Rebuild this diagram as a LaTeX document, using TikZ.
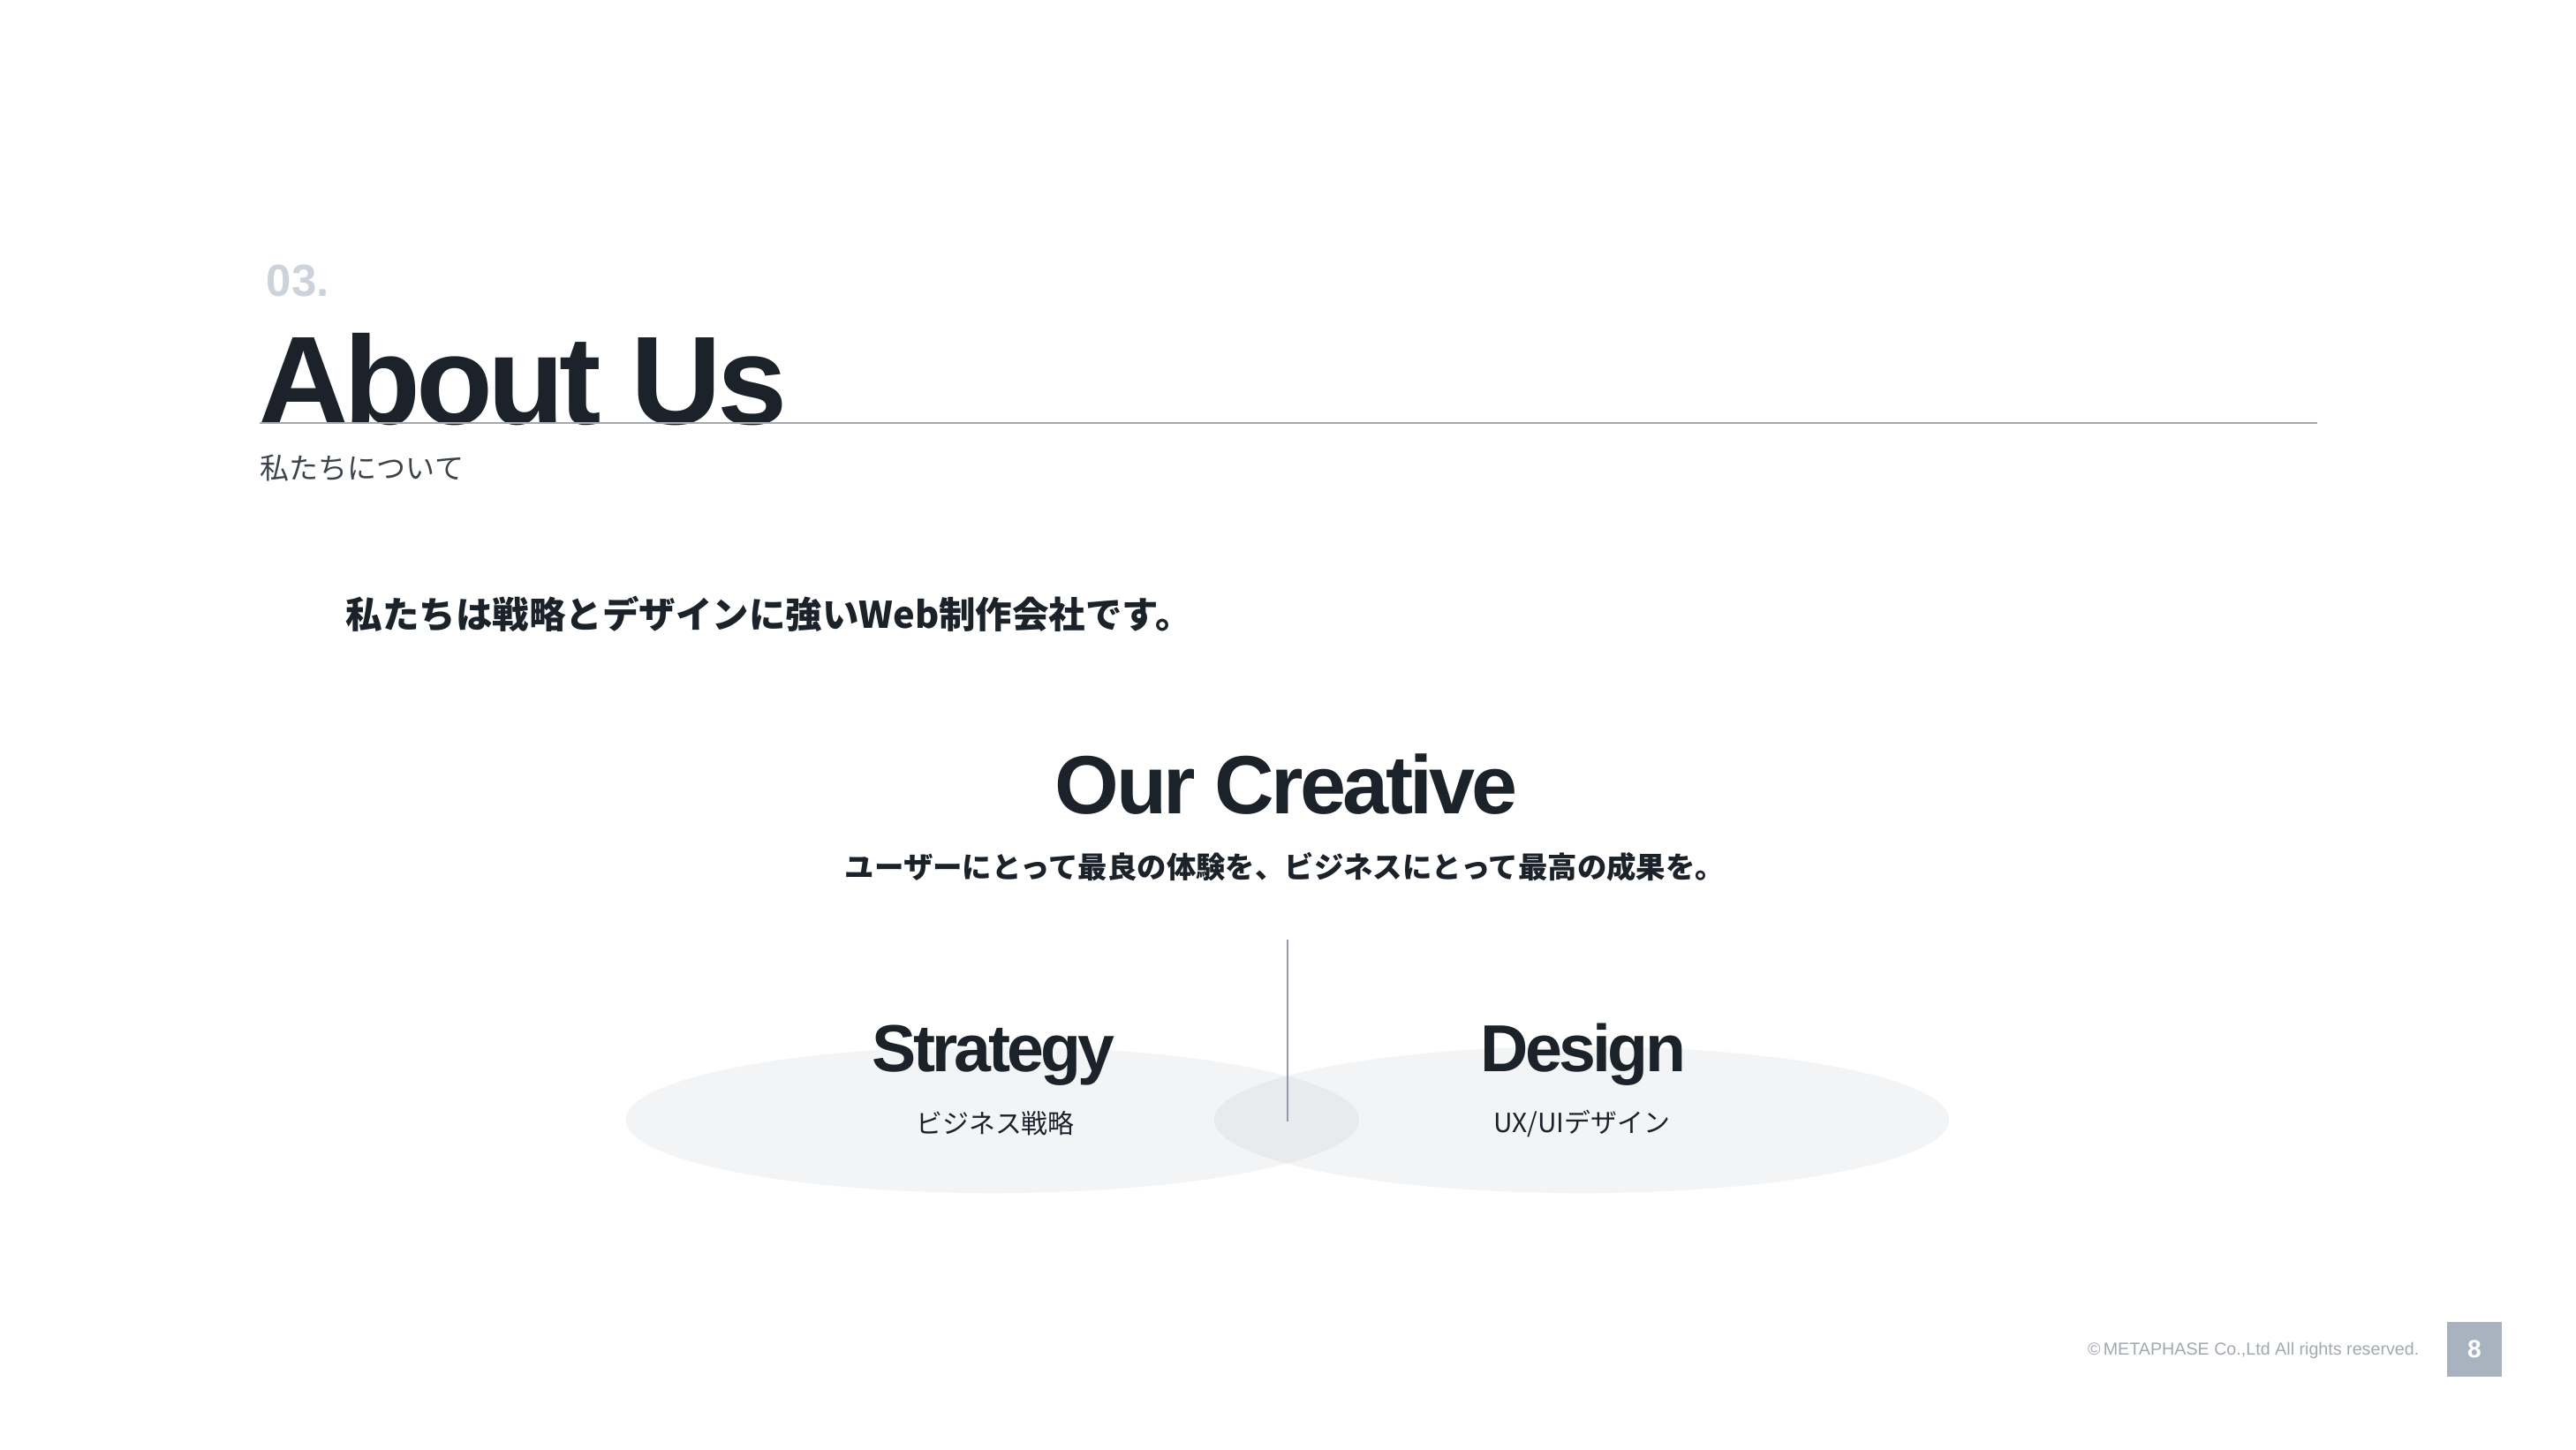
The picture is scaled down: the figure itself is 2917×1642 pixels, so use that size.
\documentclass[tikz,border=0pt]{standalone}
\usepackage{fontspec}
\usepackage{xcolor}
\usepackage{tikz}
\usetikzlibrary{positioning}
\setmainfont{Liberation Sans}
\newfontfamily\jpfont{Noto Sans CJK JP}
\definecolor{inkcolor}{RGB}{27,34,42}
\definecolor{numcolor}{RGB}{205,211,218}
\definecolor{rulecolor}{RGB}{165,169,173}
\definecolor{ovalcolor}{RGB}{140,155,170}
\definecolor{footcolor}{RGB}{162,169,178}
\definecolor{pagecolor}{RGB}{169,179,191}

\begin{document}
\begin{tikzpicture}[x=0.01cm,y=-0.01cm,inner sep=0pt,text=inkcolor]
 \tikzstyle{headline}=[font={\fontsize{26.6pt}{30pt}\selectfont\bfseries\addfontfeature{LetterSpace=-4}}]
 \tikzstyle{pillar}=[font={\fontsize{21.4pt}{24pt}\selectfont\bfseries\addfontfeature{LetterSpace=-5}}]
 \tikzstyle{jpsub}=[font={\jpfont\fontsize{8.5pt}{10pt}\selectfont}]
 \tikzstyle{oval}=[fill=ovalcolor,fill opacity=0.1]

   \useasboundingbox[fill=white] (0,0) rectangle (2917,1642);

   % title block
   \node[anchor=base west,text=numcolor,font={\fontsize{14.5pt}{16pt}\selectfont\bfseries}] (num) at (301,335) {03.};
   \node[anchor=base west,font={\fontsize{40.5pt}{44pt}\selectfont\bfseries\addfontfeature{LetterSpace=-4}}] (title) at (292,480) {About Us};
   \node[anchor=west,font={\jpfont\fontsize{9.4pt}{11pt}\selectfont},text=inkcolor!85] (subtitle) at (294,530) {私たちについて};
   \coordinate (ruleL) at (294,479);
   \coordinate (ruleR) at (2624,479);
   \draw[rulecolor,line width=0.6pt] (ruleL) -- (ruleR);

   \node[anchor=west,font={\jpfont\fontsize{11.8pt}{14pt}\selectfont\bfseries}] (lead) at (391,695) {私たちは戦略とデザインに強いWeb制作会社です。};

   % our creative
   \node[headline,anchor=base] (creative) at (1457,921) {Our Creative};
   \node[font={\jpfont\fontsize{9.5pt}{11pt}\selectfont\bfseries}] (motto) at (1455,982) {ユーザーにとって最良の体験を、ビジネスにとって最高の成果を。};

   \path[oval] (1124,1268) ellipse [x radius=4.15cm,y radius=0.83cm];
   \path[oval] (1791,1268) ellipse [x radius=4.16cm,y radius=0.83cm];

   \coordinate (splitT) at (1458,1064);
   \coordinate (splitB) at (1458,1270);
   \draw[rulecolor!90!blue,line width=0.5pt] (splitT) -- (splitB);

   \node[pillar,anchor=base] (strategy) at (1125,1213) {Strategy};
   \node[jpsub] (strategyjp) at (1127,1272) {ビジネス戦略};
   \node[pillar,anchor=base] (design) at (1793,1213) {Design};
   \node[jpsub] (designjp) at (1791,1272) {UX/UIデザイン};

   % footer
   \node[anchor=east,text=footcolor,font={\fontsize{5.6pt}{6pt}\selectfont}] (copy) at (2740,1529) {\textcopyright\,METAPHASE Co.,Ltd All rights reserved.};
   \node[fill=pagecolor,minimum size=0.62cm,text=white,font={\fontsize{8pt}{9pt}\selectfont\bfseries}] (page) at (2802,1528) {8};

\end{tikzpicture}
\end{document}
